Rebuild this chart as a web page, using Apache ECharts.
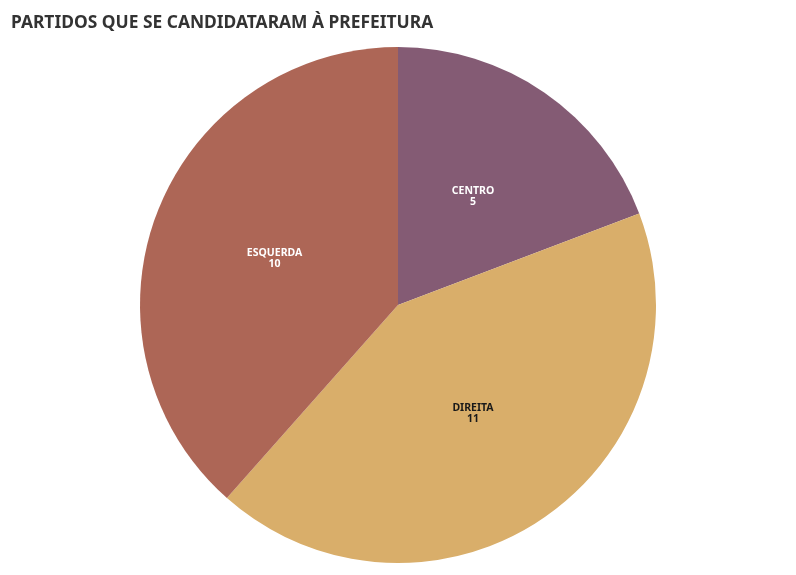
<!DOCTYPE html>
<html><head><meta charset="utf-8">
<script src="https://cdn.jsdelivr.net/npm/echarts@6/dist/echarts.min.js"></script>
<style>html,body{margin:0;padding:0;background:#fff}#c{width:796px;height:575px}</style>
</head><body><div id="c"></div>
<script>
const categories = ['CENTRO', 'DIREITA', 'ESQUERDA'];
const values = [5, 11, 10];
const colors = ['#845B74', '#D9AE6A', '#AD6656'];
const labelColors = ['#ffffff', '#1a1a1a', '#ffffff'];
const chart = echarts.init(document.getElementById('c'));
chart.setOption({
  animation: false,
  title: {
    text: 'PARTIDOS QUE SE CANDIDATARAM À PREFEITURA',
    left: 6, top: 10,
    textStyle: { fontFamily: 'Noto Sans', fontWeight: 'bold', fontSize: 17.4, color: '#333333' }
  },
  series: [{
    type: 'pie',
    center: [398, 305],
    radius: [0, 258],
    startAngle: 90,
    clockwise: true,
    label: {
      position: 'inside',
      fontFamily: 'Noto Sans', fontWeight: 'bold', fontSize: 10.5, lineHeight: 11,
      padding: [8, 0, 0, 0],
      formatter: p => p.name + '\n' + p.value
    },
    labelLine: { show: false },
    itemStyle: { borderWidth: 0 },
    data: categories.map((c, i) => ({
      name: c, value: values[i],
      itemStyle: { color: colors[i] },
      label: { color: labelColors[i] }
    }))
  }]
});
</script></body></html>
